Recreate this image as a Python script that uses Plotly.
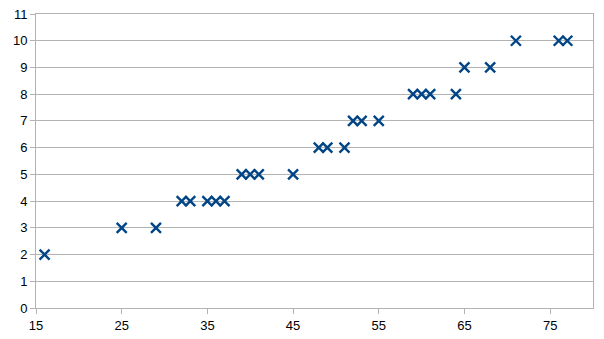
import plotly.graph_objects as go

x_vals = [16, 25, 29, 32, 33, 35, 36, 37, 39, 40, 41, 45, 48, 49, 51,
          52, 53, 55, 59, 60, 61, 64, 65, 68, 71, 76, 77]
y_vals = [2, 3, 3, 4, 4, 4, 4, 4, 5, 5, 5, 5, 6, 6, 6,
          7, 7, 7, 8, 8, 8, 8, 9, 9, 10, 10, 10]
x_ticks = [15, 25, 35, 45, 55, 65, 75]
y_ticks = list(range(0, 12))

fig = go.Figure()
fig.add_trace(go.Scatter(
    x=x_vals, y=y_vals, mode="markers",
    marker=dict(symbol="x-thin", size=10, color="#004586",
                line=dict(width=2.4, color="#004586")),
    showlegend=False,
))

fig.update_layout(
    width=604, height=339,
    margin=dict(l=36, r=11, t=14, b=31, autoexpand=False),
    paper_bgcolor="white", plot_bgcolor="white",
    font=dict(family="Liberation Sans", size=13, color="#000000"),
    xaxis=dict(range=[15, 80], tickvals=x_ticks, showgrid=False, zeroline=False,
               automargin=False,
               showline=True, linecolor="#b3b3b3", linewidth=1, mirror=True,
               ticks="outside", ticklen=5, tickcolor="#b3b3b3"),
    yaxis=dict(range=[0, 11], tickvals=y_ticks, showgrid=True, gridcolor="#b3b3b3",
               gridwidth=1, zeroline=False, automargin=False,
               showline=True, linecolor="#b3b3b3", linewidth=1, mirror=True,
               ticks="outside", ticklen=5, tickcolor="#b3b3b3"),
)

fig.write_html("out.html")
